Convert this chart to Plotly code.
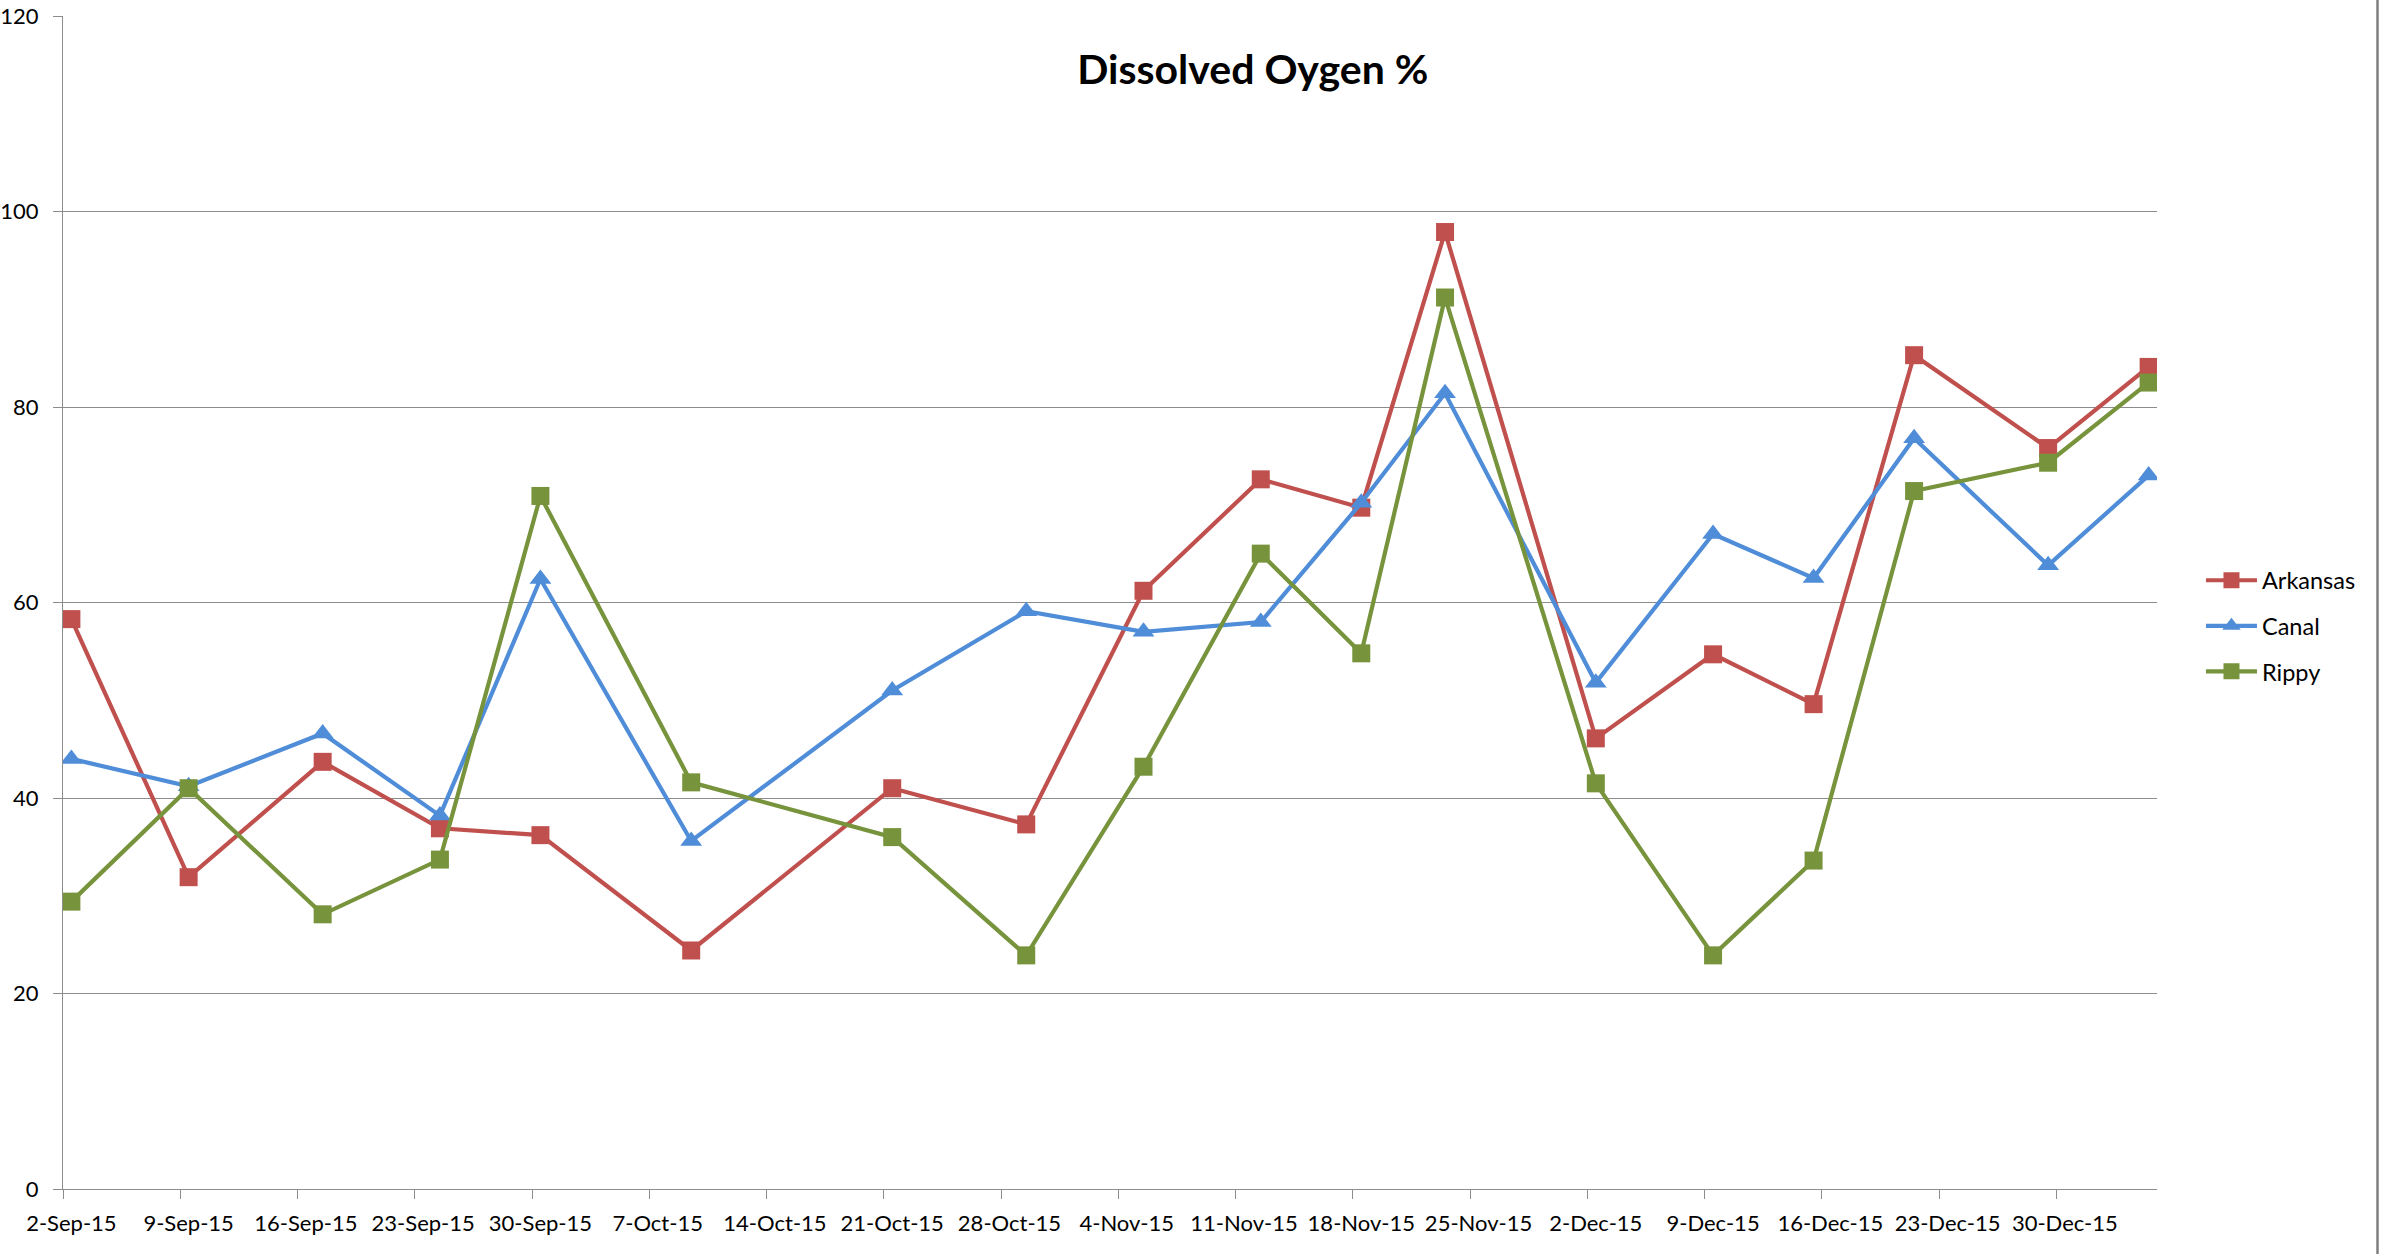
import plotly.graph_objects as go
import pandas as pd

# ---- data ----
sample_dates = ["2015-09-02", "2015-09-09", "2015-09-17", "2015-09-24", "2015-09-30",
                "2015-10-09", "2015-10-21", "2015-10-29", "2015-11-05", "2015-11-12",
                "2015-11-18", "2015-11-23", "2015-12-02", "2015-12-09", "2015-12-15",
                "2015-12-21", "2015-12-29", "2016-01-04"]
arkansas = [58.3, 31.9, 43.7, 36.9, 36.2, 24.4, 41.0, 37.3, 61.2, 72.6,
            69.7, 97.9, 46.1, 54.7, 49.6, 85.3, 75.8, 84.1]
canal = [44.0, 41.2, 46.6, 38.2, 62.4, 35.6, 51.0, 59.1, 57.0, 58.0,
         70.2, 81.4, 51.8, 67.0, 62.5, 76.8, 63.8, 73.0]
rippy = [29.4, 41.0, 28.1, 33.7, 70.9, 41.6, 36.0, 23.9, 43.2, 65.0,
         54.8, 91.2, 41.5, 23.9, 33.6, 71.4, 74.3, 82.5]
tick_dates = ["2015-09-02", "2015-09-09", "2015-09-16", "2015-09-23", "2015-09-30",
              "2015-10-07", "2015-10-14", "2015-10-21", "2015-10-28", "2015-11-04",
              "2015-11-11", "2015-11-18", "2015-11-25", "2015-12-02", "2015-12-09",
              "2015-12-16", "2015-12-23", "2015-12-30"]
tick_labels = ["2-Sep-15", "9-Sep-15", "16-Sep-15", "23-Sep-15", "30-Sep-15", "7-Oct-15",
               "14-Oct-15", "21-Oct-15", "28-Oct-15", "4-Nov-15", "11-Nov-15", "18-Nov-15",
               "25-Nov-15", "2-Dec-15", "9-Dec-15", "16-Dec-15", "23-Dec-15", "30-Dec-15"]
x_range = ["2015-09-02", "2016-01-05"]

# Excel date axis: values sit at the middle of each day
half_day = pd.Timedelta(hours=12)
x_pts = [pd.Timestamp(d) + half_day for d in sample_dates]
x_lab = [pd.Timestamp(d) + half_day for d in tick_dates]

FONT = "Lato"
GRID = "#8C8C8C"

series = [
    ("Arkansas", arkansas, "#C0504D", "square", 18),
    ("Canal", canal, "#4F8DD8", "triangle-up", 19),
    ("Rippy", rippy, "#77933C", "square", 18),
]

fig = go.Figure()
for name, vals, col, sym, sz in series:
    fig.add_trace(go.Scatter(
        x=x_pts, y=vals, name=name, mode="lines+markers",
        line=dict(color=col, width=4.2),
        marker=dict(symbol=sym, size=sz, color=col, line=dict(width=0)),
        legendgroup=name,
    ))

W, H = 2381, 1254
fig.update_layout(
    width=W, height=H,
    paper_bgcolor="white", plot_bgcolor="white",
    margin=dict(l=63, r=224, t=16, b=65, autoexpand=False),
    font=dict(family=FONT, color="#000000", size=22),
    title=dict(text="<b>Dissolved Oygen %</b>", font=dict(family=FONT, size=41, color="#000000"),
               xref="paper", x=0.5682, xanchor="center",
               yref="container", y=1 - 70 / H, yanchor="middle"),
    showlegend=True,
    legend=dict(x=1.021, xanchor="left", y=0.48, yanchor="middle",
                font=dict(family=FONT, size=23.5, color="#000000"),
                itemwidth=51,
                tracegroupgap=12, bgcolor="rgba(0,0,0,0)"),
    xaxis=dict(
        type="date", range=x_range, automargin=False,
        tickmode="array", tickvals=x_lab, ticktext=tick_labels,
        ticks="", showgrid=False,
        showline=True, linecolor=GRID, linewidth=1.3,
        tickfont=dict(family=FONT, size=22, color="#000000"),
        ticklabelstandoff=14, ticklabeloverflow="allow",
        minor=dict(tickmode="array", tickvals=[pd.Timestamp(d) for d in tick_dates],
                   ticks="outside", ticklen=9, tickcolor=GRID, tickwidth=1.3, showgrid=False),
        zeroline=False,
    ),
    yaxis=dict(
        range=[0, 120], dtick=20, tick0=0, automargin=False,
        showgrid=True, gridcolor=GRID, gridwidth=1.3,
        showline=True, linecolor=GRID, linewidth=1.3,
        ticks="outside", ticklen=9, tickcolor=GRID, tickwidth=1.3,
        tickfont=dict(family=FONT, size=22, color="#000000"),
        ticklabelstandoff=10, ticklabeloverflow="allow",
        zeroline=False,
    ),
)

# chart-area border on the right edge
fig.add_shape(type="line", xref="paper", yref="paper",
              x0=1.1053, x1=1.1053, y0=-0.06, y1=1.02,
              line=dict(color="#7F7F7F", width=2.5))

# remove the default page margin so the figure fills the window exactly
fig.write_html("out.html",
               config={"displayModeBar": False},
               post_script="document.body.style.margin='0';document.body.style.overflow='hidden';")
